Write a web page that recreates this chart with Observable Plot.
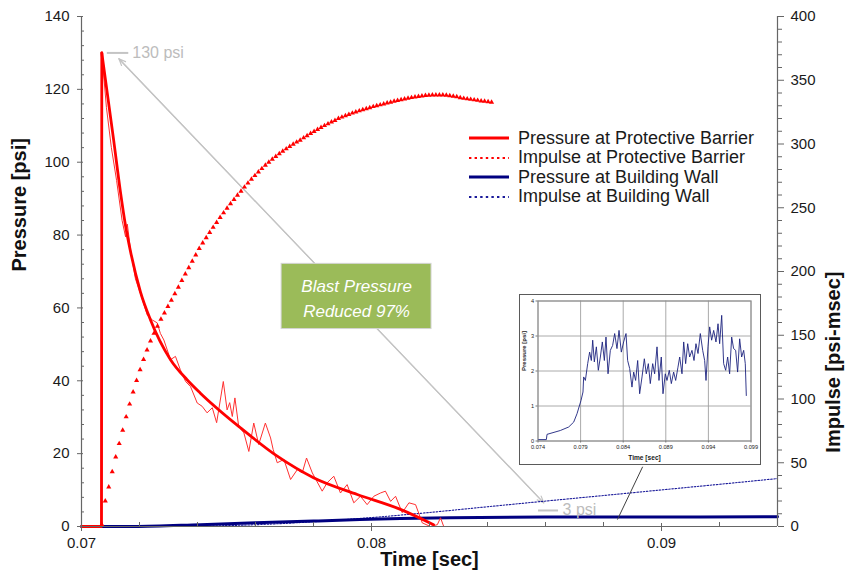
<!DOCTYPE html>
<html>
<head>
<meta charset="utf-8">
<script src="https://cdn.jsdelivr.net/npm/d3@7"></script>
<script src="https://cdn.jsdelivr.net/npm/@observablehq/plot@0.6"></script>
<style>
  html, body { margin: 0; padding: 0; background: #fff; }
  #wrap { position: relative; width: 846px; height: 577px; overflow: hidden; }
  #legend { position: absolute; left: 469px; top: 128.5px; font: 18px 'Liberation Sans', Arial, sans-serif; color: #1a1a1a; }
  #legend .row { display: flex; align-items: center; height: 19.5px; white-space: nowrap; }
  #legend svg { flex: none; }
  #legend span { margin-left: 9px; }
  #inset { position: absolute; left: 519px; top: 294px; width: 242px; height: 171px; border: 1.5px solid #5a5a5a; box-sizing: border-box; background: #fff; }
</style>
</head>
<body>
<div id="wrap">
  <div id="chart"></div>
  <div id="legend"></div>
  <div id="inset"></div>
</div>
<script>
// ---------------- DATA ----------------
const seriesNames = ["Pressure at Protective Barrier", "Impulse at Protective Barrier", "Pressure at Building Wall", "Impulse at Building Wall"];
const seriesColors = ["#ff0000", "#ff0000", "#000080", "#1a1a9a"];

// Pressure at Protective Barrier, fitted curve: rise [time s, psi]
const pressureBarrierRise = [[0.0700, 0], [0.07069, 0], [0.07070, 130]];
// Pressure at Protective Barrier, fitted curve: decay [time s, psi]
const pressureBarrierFit = [
  [0.07070, 130], [0.07111, 106], [0.07134, 92], [0.07152, 82.5],
  [0.07169, 75.5], [0.07203, 64.5], [0.07238, 56.7], [0.07307, 45.8], [0.07364, 40.3],
  [0.07410, 36.6], [0.07548, 27.1], [0.07675, 19.3], [0.07800, 13.4], [0.07951, 8.8],
  [0.08100, 4.7], [0.08214, 0.5]
];

// Pressure at Protective Barrier, raw record [time s, psi]
const pressureBarrierRaw = [
  [0.0700, 0], [0.07067, 0], [0.07071, 129], [0.07086, 115], [0.07103, 104], [0.07121, 95],
  [0.07140, 84], [0.07152, 79.5], [0.07158, 83], [0.07169, 76], [0.07186, 68], [0.07203, 64],
  [0.07227, 58], [0.07244, 56.7], [0.07261, 55.9], [0.07272, 53], [0.07284, 51.2], [0.07307, 45.8],
  [0.07324, 46.7], [0.07341, 43], [0.07359, 39.8], [0.07376, 38.4], [0.07399, 33.9], [0.07416, 33],
  [0.07433, 31.2], [0.07451, 32.6], [0.07466, 28.5], [0.07489, 39.8], [0.07502, 32], [0.07511, 34],
  [0.07520, 30.2], [0.07529, 35.3], [0.07542, 27.5], [0.07560, 25.7], [0.07577, 20.6], [0.07594, 28.4],
  [0.07611, 22.5], [0.07634, 28.4], [0.07652, 24.3], [0.07661, 21.1], [0.07675, 17.5], [0.07698, 18.4],
  [0.07721, 12.9], [0.07744, 15.6], [0.07761, 14.7], [0.07776, 18.8], [0.07796, 14.7], [0.07830, 9.7],
  [0.07847, 12], [0.07870, 13.8], [0.07893, 9.2], [0.07916, 11.5], [0.07939, 6.5], [0.07962, 8.3],
  [0.07985, 6], [0.08008, 8.3], [0.08031, 9.2], [0.08048, 9.7], [0.08066, 6.9], [0.08083, 8.3],
  [0.08106, 3.8], [0.08129, 6.5], [0.08152, 6], [0.08175, 1], [0.08203, 0], [0.08227, 0.5],
  [0.08238, 2.4], [0.08249, 0]
];

// Impulse at Protective Barrier [time s, psi-msec]
const impulseBarrier = [
  [0.07070, 1.5], [0.07082, 20], [0.07094, 31], [0.07106, 43], [0.07118, 54.5], [0.07130, 65],
  [0.07142, 75.5], [0.07154, 86], [0.07166, 96], [0.07178, 105.5], [0.07190, 114.5], [0.07202, 123],
  [0.07214, 131], [0.07226, 138.5], [0.07238, 145.5], [0.07250, 151.5], [0.07262, 157], [0.07274, 162.5],
  [0.07286, 167.5], [0.07298, 172.5], [0.07310, 177.5], [0.07322, 182.5], [0.07334, 187.7], [0.07346, 192.9],
  [0.07358, 198], [0.07370, 203], [0.07382, 208], [0.07394, 213], [0.07406, 218], [0.07418, 222.3],
  [0.07430, 226.5], [0.07442, 230.6], [0.07454, 234.6], [0.07466, 238.5], [0.07478, 242.3], [0.07490, 246],
  [0.07502, 249.6], [0.07514, 253.1], [0.07526, 256.5], [0.07538, 259.8], [0.07550, 263], [0.07562, 266.2],
  [0.07574, 269.3], [0.07586, 272.3], [0.07598, 275.2], [0.07610, 278], [0.07622, 280.7], [0.07634, 283.3],
  [0.07646, 285.7], [0.07658, 288], [0.07670, 290.2], [0.07682, 292.3], [0.07694, 294.3], [0.07706, 296.2],
  [0.07718, 298], [0.07730, 299.8], [0.07742, 301.5], [0.07754, 303], [0.07766, 304.8], [0.07778, 306.5],
  [0.07790, 308.2], [0.07802, 309.8], [0.07814, 311.4], [0.07826, 312.9], [0.07838, 314.4], [0.07850, 315.8],
  [0.07862, 317.2], [0.07874, 318.5], [0.07886, 320], [0.07898, 321.1], [0.07910, 322.2], [0.07922, 323.2],
  [0.07934, 324.2], [0.07946, 325.1], [0.07958, 326], [0.07970, 326.9], [0.07982, 327.7], [0.07994, 328.5],
  [0.08006, 329.3], [0.08018, 330], [0.08030, 330.7], [0.08042, 331.4], [0.08054, 332.1], [0.08066, 332.8],
  [0.08078, 333.5], [0.08090, 334.1], [0.08102, 334.7], [0.08114, 335.3], [0.08126, 335.9], [0.08138, 336.4],
  [0.08150, 336.9], [0.08162, 337.3], [0.08174, 337.7], [0.08186, 338], [0.08198, 338.2], [0.08210, 338.4],
  [0.08222, 338.5], [0.08234, 338.5], [0.08246, 338.4], [0.08258, 338.2], [0.08270, 337.9], [0.08282, 337.5],
  [0.08294, 337], [0.08306, 336.3], [0.08318, 335.8], [0.08330, 335.4], [0.08342, 335], [0.08354, 334.6],
  [0.08366, 334.2], [0.08378, 333.8], [0.08390, 333.5], [0.08402, 333.1], [0.08414, 332.8]
];

// Pressure at Building Wall (smoothed) [time s, psi]
const pressureWall = [
  [0.0700, 0], [0.0718, 0], [0.0741, 0.5], [0.0760, 1.0], [0.0780, 1.5], [0.0796, 1.9],
  [0.0810, 2.2], [0.0827, 2.4], [0.0860, 2.6], [0.0900, 2.6], [0.0940, 2.7]
];

// Impulse at Building Wall [time s, psi-msec]
const impulseWall = [
  [0.0700, 0], [0.0720, 0], [0.0740, 0.3], [0.0760, 1.4], [0.0780, 3.7], [0.0800, 7.0],
  [0.0820, 11.0], [0.0840, 15.5], [0.0858, 19.5], [0.0880, 24.3], [0.0900, 28.7],
  [0.0920, 33.1], [0.0940, 37.6]
];

// Inset: raw pressure at building wall [time s, psi]
const insetPressure = [
  [0.07408, 0.04], [0.07498, 0.04], [0.07506, 0.19], [0.07662, 0.3], [0.07760, 0.4], [0.07819, 0.54],
  [0.07858, 0.78], [0.07905, 1.16], [0.07928, 1.4], [0.07936, 1.83], [0.07956, 1.73], [0.07983, 2.21],
  [0.08006, 2.54], [0.08026, 2.3], [0.08042, 2.88], [0.08061, 2.26], [0.08085, 2.69], [0.08108, 2.02],
  [0.08132, 2.4], [0.08155, 2.83], [0.08179, 2.3], [0.08198, 2.97], [0.08222, 1.92], [0.08249, 2.59],
  [0.08276, 2.73], [0.08300, 3.07], [0.08327, 2.64], [0.08351, 3.16], [0.08378, 2.54], [0.08405, 2.83],
  [0.08433, 3.07], [0.08452, 2.3], [0.08476, 2.07], [0.08503, 1.54], [0.08523, 1.97], [0.08546, 1.73],
  [0.08570, 2.3], [0.08593, 1.35], [0.08621, 1.83], [0.08648, 2.35], [0.08671, 1.92], [0.08695, 2.21],
  [0.08718, 1.64], [0.08746, 2.21], [0.08769, 1.92], [0.08797, 2.69], [0.08820, 1.73], [0.08847, 2.4],
  [0.08867, 1.35], [0.08894, 1.92], [0.08914, 1.73], [0.08941, 2.02], [0.08965, 1.64], [0.08992, 1.97],
  [0.09016, 1.73], [0.09043, 2.11], [0.09063, 2.4], [0.09090, 1.92], [0.09110, 2.83], [0.09133, 2.21],
  [0.09157, 2.78], [0.09180, 2.4], [0.09207, 2.59], [0.09231, 2.3], [0.09254, 2.78], [0.09278, 2.5],
  [0.09305, 3.07], [0.09333, 2.59], [0.09356, 2.3], [0.09372, 1.73], [0.09395, 2.69], [0.09415, 3.26],
  [0.09438, 2.88], [0.09462, 3.16], [0.09489, 2.83], [0.09513, 3.35], [0.09532, 2.78], [0.09556, 3.59],
  [0.09579, 2.21], [0.09603, 2.02], [0.09626, 2.4], [0.09649, 1.92], [0.09673, 2.97], [0.09696, 2.64],
  [0.09720, 2.59], [0.09743, 1.97], [0.09767, 2.92], [0.09790, 2.4], [0.09814, 2.59], [0.09833, 2.21],
  [0.09845, 1.3]
];

// Axis ticks
const leftTicks = [0, 20, 40, 60, 80, 100, 120, 140];
const leftMinorTicks = [4, 8, 12, 16, 24, 28, 32, 36, 44, 48, 52, 56, 64, 68, 72, 76, 84, 88, 92, 96, 104, 108, 112, 116, 124, 128, 132, 136];
const rightTicks = [0, 50, 100, 150, 200, 250, 300, 350, 400];
const rightMinorTicks = [10, 20, 30, 40, 60, 70, 80, 90, 110, 120, 130, 140, 160, 170, 180, 190, 210, 220, 230, 240, 260, 270, 280, 290, 310, 320, 330, 340, 360, 370, 380, 390];
const xTicks = [0.07, 0.08, 0.09];
const xMinorTicks = [0.072, 0.074, 0.076, 0.078, 0.082, 0.084, 0.086, 0.088, 0.092];
const insetXTicks = [0.074, 0.079, 0.084, 0.089, 0.094, 0.099];
const insetYTicks = [0, 1, 2, 3, 4];

// Annotations (data coordinates: time s, psi)
const annotationLabels = [
  {label: "130 psi", t: 0.07175, p: 130},
  {label: "3 psi", t: 0.08659, p: 4.6}
];
const annotationDashes = [
  {t1: 0.07089, t2: 0.07163, p: 130},
  {t1: 0.08576, t2: 0.08645, p: 4.4}
];
const arrowLinks = [
  {t1: 0.08594, p1: 6.5, t2: 0.07129, p2: 128.4},
  {t1: 0.07129, p1: 128.4, t2: 0.08594, p2: 6.5}
];
const calloutBox = [{label: "Blast Pressure\nReduced 97%", t1: 0.07690, t2: 0.08207, p1: 54.2, p2: 72.1}];
const insetLink = [{t1: 0.08935, p1: 16.4, t2: 0.08848, p2: 1.9}];

// ---------------- CHART ----------------
const FONT = "'Liberation Sans', Arial, sans-serif";
const AX = "#666666";
const K = 140 / 400; // impulse axis -> pressure axis
const toObj = arr => arr.map(([t, v]) => ({t, v}));

const main = Plot.plot({
  width: 846, height: 577,
  marginLeft: 81, marginRight: 69, marginTop: 16, marginBottom: 51,
  x: {domain: [0.07, 0.094], label: null},
  y: {domain: [0, 140], label: null},
  style: {fontFamily: FONT, fontSize: "15px", color: "#1a1a1a", background: "transparent", overflow: "visible"},
  marks: [
    Plot.arrow(arrowLinks, {x1: "t1", y1: "p1", x2: "t2", y2: "p2", stroke: "#c4c4c4", strokeWidth: 1.2, headLength: 9, headAngle: 45}),
    Plot.rect(calloutBox, {x1: "t1", x2: "t2", y1: "p1", y2: "p2", fill: "#9bbb59", stroke: "#d4d4d4", strokeWidth: 1}),
    Plot.text(calloutBox, {x: d => (d.t1 + d.t2) / 2, y: d => (d.p1 + d.p2) / 2, text: "label", fill: "#ffffff", fontSize: 17, fontStyle: "italic", lineHeight: 1.5}),

    Plot.line(toObj(impulseWall), {x: "t", y: d => d.v * K, stroke: seriesColors[3], strokeWidth: 1.1, strokeDasharray: "1.6,1.6", curve: "monotone-x"}),
    Plot.line(toObj(pressureWall), {x: "t", y: "v", stroke: seriesColors[2], strokeWidth: 3, curve: "monotone-x"}),
    Plot.line(toObj(pressureBarrierRaw), {x: "t", y: "v", stroke: "#ff3030", strokeWidth: 1, curve: "linear"}),
    Plot.line(toObj(pressureBarrierRise), {x: "t", y: "v", stroke: seriesColors[0], strokeWidth: 2.8, curve: "linear"}),
    Plot.line(toObj(pressureBarrierFit), {x: "t", y: "v", stroke: seriesColors[0], strokeWidth: 2.8, curve: "monotone-x"}),
    Plot.dot(toObj(impulseBarrier), {x: "t", y: d => d.v * K, symbol: "triangle", r: 1.9, fill: seriesColors[1], stroke: "none"}),

    // axis lines
    Plot.ruleX([0.07], {stroke: AX, strokeWidth: 1.2}),
    Plot.ruleX([0.094], {stroke: AX, strokeWidth: 1.2}),
    Plot.ruleY([0], {stroke: AX, strokeWidth: 1.2}),
    // left axis
    Plot.axisY(leftTicks, {anchor: "left", tickSize: 6, dx: 2, tickPadding: 8, stroke: AX, fontSize: 15, label: null}),
    Plot.axisY(leftMinorTicks, {anchor: "left", tickSize: 3, dx: 3, tickFormat: () => "", stroke: AX, label: null}),
    // right axis (impulse)
    Plot.axisY(rightTicks.map(v => v * K), {anchor: "right", tickSize: 6, tickPadding: 7, stroke: AX, fontSize: 15, tickFormat: d => String(Math.round(d / K)), label: null}),
    Plot.axisY(rightMinorTicks.map(v => v * K), {anchor: "right", tickSize: 4, tickFormat: () => "", stroke: AX, label: null}),
    // bottom axis
    Plot.axisX(xTicks, {anchor: "bottom", tickSize: 8, dy: -3, tickPadding: 6, stroke: AX, fontSize: 15, tickFormat: d => d.toFixed(2), label: null}),
    Plot.axisX(xMinorTicks, {anchor: "bottom", tickSize: 4, dy: -4, tickFormat: () => "", stroke: AX, label: null}),

    // axis titles
    Plot.text(["Time [sec]"], {text: d => d, frameAnchor: "bottom", dy: 39, fontSize: 20, fontWeight: "bold", fill: "#111"}),
    Plot.text(["Pressure [psi]"], {text: d => d, frameAnchor: "left", dx: -62, rotate: -90, fontSize: 20, fontWeight: "bold", fill: "#111"}),
    Plot.text(["Impulse [psi-msec]"], {text: d => d, frameAnchor: "right", dx: 56, rotate: -90, fontSize: 20, fontWeight: "bold", fill: "#111"}),

    // annotations
    Plot.ruleY(annotationDashes, {y: "p", x1: "t1", x2: "t2", stroke: "#c4c4c4", strokeWidth: 2}),
    Plot.text(annotationLabels, {x: "t", y: "p", text: "label", textAnchor: "start", fill: "#bcbcbc", fontSize: 16}),
    Plot.link(insetLink, {x1: "t1", y1: "p1", x2: "t2", y2: "p2", stroke: "#404040", strokeWidth: 1})
  ]
});
document.getElementById("chart").appendChild(main);

// ---------------- LEGEND ----------------
const legend = document.getElementById("legend");
seriesNames.forEach((name, i) => {
  const row = document.createElement("div");
  row.className = "row";
  const dotted = i % 2 === 1;
  row.innerHTML = `<svg width="40" height="6"><line x1="0" y1="3" x2="40" y2="3" stroke="${seriesColors[i]}" stroke-width="${dotted ? 2.2 : 3}" ${dotted ? 'stroke-dasharray="2.4,3.2"' : ''}/></svg><span>${name}</span>`;
  legend.appendChild(row);
});

// ---------------- INSET ----------------
const inset = Plot.plot({
  width: 239, height: 168,
  marginLeft: 17.5, marginRight: 8.5, marginTop: 5.5, marginBottom: 22.5,
  x: {domain: [0.074, 0.099], label: null},
  y: {domain: [0, 4], label: null},
  style: {fontFamily: FONT, fontSize: "5.6px", color: "#222", background: "#fff"},
  marks: [
    Plot.gridX(insetXTicks, {stroke: "#a0a0a0", strokeOpacity: 1, strokeWidth: 0.9}),
    Plot.gridY(insetYTicks, {stroke: "#a0a0a0", strokeOpacity: 1, strokeWidth: 0.9}),
    Plot.frame({stroke: "#8a8a8a"}),
    Plot.line(toObj(insetPressure), {x: "t", y: "v", stroke: "#1c237e", strokeWidth: 0.9}),
    Plot.axisX(insetXTicks, {anchor: "bottom", tickSize: 2, tickPadding: 2, tickFormat: d => d.toFixed(3), stroke: "#777", fontSize: 5.6, label: null}),
    Plot.axisY(insetYTicks, {anchor: "left", tickSize: 2, tickPadding: 2, stroke: "#777", fontSize: 5.6, label: null}),
    Plot.text(["Time [sec]"], {text: d => d, frameAnchor: "bottom", dy: 18.5, fontSize: 6.6, fontWeight: "bold"}),
    Plot.text(["Pressure [psi]"], {text: d => d, frameAnchor: "left", dx: -13.5, rotate: -90, fontSize: 6, fontWeight: "bold"})
  ]
});
document.getElementById("inset").appendChild(inset);
</script>
</body>
</html>
